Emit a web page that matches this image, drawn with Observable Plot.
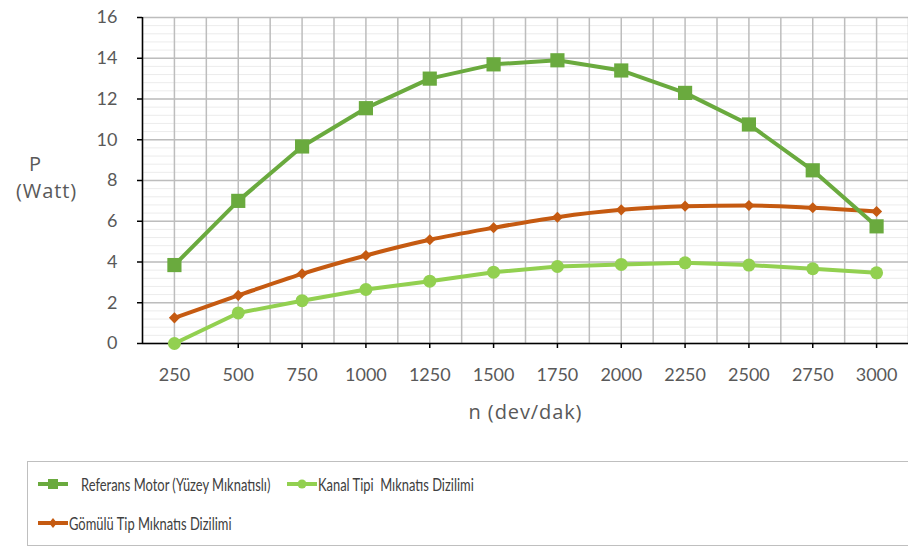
<!DOCTYPE html>
<html>
<head>
<meta charset="utf-8">
<script src="https://cdn.jsdelivr.net/npm/d3@7"></script>
<script src="https://cdn.jsdelivr.net/npm/@observablehq/plot@0.6"></script>
<style>
  body { margin: 0; background: #fff; width: 908px; height: 549px; overflow: hidden; font-family: "Open Sans", sans-serif; }
  #chart { position: absolute; left: 0; top: 0; }
  #legend { position: absolute; left: 27px; top: 461px; width: 900px; height: 85px; border: 1.5px solid #bfbfbf; box-sizing: border-box; font-family: Lato, sans-serif; font-size: 17px; color: #404040; }
  .item { position: absolute; display: flex; align-items: center; }
  .item span { display: inline-block; transform-origin: left center; transform: scaleX(0.76); white-space: pre; }
</style>
</head>
<body>
<div id="chart"></div>
<div id="legend"></div>
<script>
const speeds = [250, 500, 750, 1000, 1250, 1500, 1750, 2000, 2250, 2500, 2750, 3000];
const referans = [3.85, 7.0, 9.67, 11.55, 13.0, 13.7, 13.9, 13.4, 12.3, 10.75, 8.5, 5.75];
const kanal = [0.0, 1.5, 2.1, 2.65, 3.06, 3.5, 3.78, 3.88, 3.96, 3.85, 3.67, 3.47];
const gomulu = [1.26, 2.36, 3.42, 4.32, 5.09, 5.68, 6.2, 6.56, 6.74, 6.77, 6.66, 6.48];
const seriesNames = ["Referans Motor (Yüzey Mıknatıslı)", "Kanal Tipi  Mıknatıs Dizilimi", "Gömülü Tip Mıknatıs Dizilimi"];
const seriesColors = ["#6aaa3e", "#92d050", "#c55a11"];
const yTicks = [0, 2, 4, 6, 8, 10, 12, 14, 16];
const xLabel = "n (dev/dak)";
const yLabel1 = "P", yLabel2 = "(Watt)";

const mk = (vals) => speeds.map((s, i) => ({x: s, y: vals[i]}));
const dRef = mk(referans), dKan = mk(kanal), dGom = mk(gomulu);

const step = speeds[1] - speeds[0];
const xMin = speeds[0] - step / 2, xMax = speeds[speeds.length - 1] + step / 2;
const vGrid = d3.range(xMin, xMax + 1, step / 2);
const hMinor = d3.range(0, 16.01, 0.4);

const chart = Plot.plot({
  width: 908,
  height: 461,
  marginLeft: 142,
  marginRight: 0,
  marginTop: 17,
  marginBottom: 118,
  style: {fontFamily: "Lato, sans-serif", background: "#fff", overflow: "visible"},
  x: {type: "linear", domain: [xMin, xMax], axis: null},
  y: {domain: [0, 16], axis: null},
  marks: [
    Plot.ruleY(hMinor, {stroke: "#ececec", strokeWidth: 1}),
    Plot.ruleY(yTicks, {stroke: "#bdbdbd", strokeWidth: 1.5}),
    Plot.ruleX(vGrid, {stroke: "#bdbdbd", strokeWidth: 1.5}),
    Plot.ruleX([xMin], {stroke: "#000", strokeWidth: 1.5}),
    Plot.ruleY([0], {stroke: "#000", strokeWidth: 1.5}),
    Plot.axisY({ticks: yTicks, tickSize: 5, stroke: "#000", strokeWidth: 1.5, tickPadding: 20, fontSize: 18, fill: "#595959", label: null, tickFormat: d => String(d)}),
    Plot.axisX({ticks: speeds, tickSize: 5, stroke: "#000", strokeWidth: 1.5, tickPadding: 20, fontSize: 18, fill: "#595959", label: null, tickFormat: d => String(d)}),
    Plot.text([xLabel], {frameAnchor: "bottom", dy: 75, fontSize: 20, fill: "#595959", fontFamily: "Open Sans, sans-serif", className: "wide"}),
    Plot.text([yLabel1], {frameAnchor: "left", dx: -107, dy: -16, fontSize: 20, fill: "#595959", textAnchor: "middle", fontFamily: "Open Sans, sans-serif", className: "wide"}),
    Plot.text([yLabel2], {frameAnchor: "left", dx: -96, dy: 11, fontSize: 20, fill: "#595959", textAnchor: "middle", fontFamily: "Open Sans, sans-serif", className: "wide"}),
    Plot.line(dGom, {x: "x", y: "y", stroke: seriesColors[2], strokeWidth: 4, curve: "monotone-x"}),
    Plot.dot(dGom, {x: "x", y: "y", symbol: "diamond2", r: 5, fill: seriesColors[2]}),
    Plot.line(dKan, {x: "x", y: "y", stroke: seriesColors[1], strokeWidth: 4, curve: "linear"}),
    Plot.dot(dKan, {x: "x", y: "y", symbol: "circle", r: 6.5, fill: seriesColors[1]}),
    Plot.line(dRef, {x: "x", y: "y", stroke: seriesColors[0], strokeWidth: 4, curve: "linear"}),
    Plot.dot(dRef, {x: "x", y: "y", symbol: "square", r: 8, fill: seriesColors[0]})
  ]
});
d3.select(chart).selectAll("g.wide text").style("letter-spacing", "0.9px");
document.getElementById("chart").appendChild(chart);

const legend = document.getElementById("legend");
const legendPos = [[9, 22, 12], [258, 22, 0], [9, 61, 0]];
const symbols = ["square", "circle", "diamond"];
seriesNames.forEach((name, i) => {
  const div = document.createElement("div");
  div.className = "item";
  div.style.left = legendPos[i][0] + "px";
  div.style.top = (legendPos[i][1] - 11) + "px";
  const s = d3.create("svg").attr("width", 32).attr("height", 22);
  s.append("line").attr("x1", 1).attr("x2", 31).attr("y1", 11).attr("y2", 11).attr("stroke", seriesColors[i]).attr("stroke-width", 4);
  if (symbols[i] === "square") s.append("rect").attr("x", 11).attr("y", 6).attr("width", 10).attr("height", 10).attr("fill", seriesColors[i]);
  else if (symbols[i] === "circle") s.append("circle").attr("cx", 16).attr("cy", 11).attr("r", 4.5).attr("fill", seriesColors[i]);
  else s.append("path").attr("d", "M16,6 L20,11 L16,16 L12,11 Z").attr("fill", seriesColors[i]);
  div.appendChild(s.node());
  const t = document.createElement("span");
  t.textContent = name;
  t.style.marginLeft = legendPos[i][2] + "px";
  div.appendChild(t);
  legend.appendChild(div);
});
</script>
</body>
</html>
